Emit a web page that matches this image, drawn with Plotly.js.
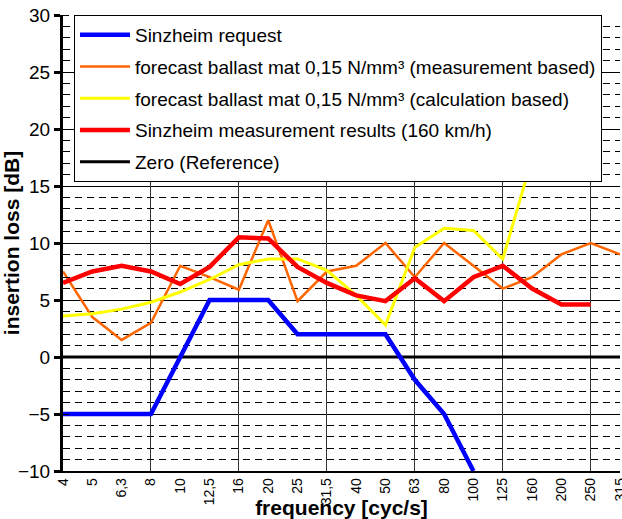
<!DOCTYPE html>
<html>
<head>
<meta charset="utf-8">
<script src="https://cdn.plot.ly/plotly-3.0.1.min.js"></script>
<style>html,body{margin:0;padding:0;background:#fff;}#chart{width:622px;height:519px;}</style>
</head>
<body>
<div id="chart"></div>
<script>
var categories = ["4","5","6,3","8","10","12,5","16","20","25","31,5","40","50","63","80","100","125","160","200","250","315"];
var request = [-5,-5,-5,-5,0,5,5,5,2,2,2,2,-2,-5,-10];
var forecastMeas = [7.5,3.5,1.5,3.0,8.0,7.0,5.9,12.0,4.9,7.5,8.0,10.0,7.0,10.0,8.0,6.0,7.0,9.0,10.0,9.0];
var forecastCalc = [3.6,3.8,4.2,4.8,5.7,6.8,8.1,8.6,8.6,7.6,5.4,2.8,9.6,11.3,11.1,8.6,17.4];
var measured = [6.5,7.5,8.0,7.5,6.4,7.9,10.5,10.4,7.9,6.5,5.4,4.9,6.9,4.9,7.0,8.0,6.0,4.6,4.6];
var zero = categories.map(function(){return 0;});
var names = ["Sinzheim request","forecast ballast mat 0,15 N/mm³ (measurement based)","forecast ballast mat 0,15 N/mm³ (calculation based)","Sinzheim measurement results (160 km/h)","Zero (Reference)"];

function cats(arr){ return categories.slice(0, arr.length); }

var traces = [
  {x: [], y: [], xaxis:'x2', yaxis:'y', mode:'lines', showlegend:false, hoverinfo:'skip'},
  {x: cats(zero), y: zero, name: names[4], mode:'lines', line:{color:'#000000', width:3}, legendrank:5, legendgroup:'e'},
  {x: cats(forecastMeas), y: forecastMeas, name: names[1], mode:'lines', line:{color:'#FF6600', width:2.5}, legendrank:2, legendgroup:'b'},
  {x: cats(forecastCalc), y: forecastCalc, name: names[2], mode:'lines', line:{color:'#FFFF00', width:3}, legendrank:3, legendgroup:'c'},
  {x: cats(request), y: request, name: names[0], mode:'lines', line:{color:'#0000FF', width:4.5}, legendrank:1, legendgroup:'a'},
  {x: cats(measured), y: measured, name: names[3], mode:'lines', line:{color:'#FF0000', width:4.5}, legendrank:4, legendgroup:'d'}
];

var layout = {
  width: 622, height: 519,
  margin: {l:63, r:2, t:15, b:48},
  paper_bgcolor:'#ffffff', plot_bgcolor:'#ffffff',
  font: {family:'Liberation Sans, Arial, sans-serif', color:'#000000', size:19},
  showlegend: true,
  legend: {x:0.0197, y:1.0, xanchor:'left', yanchor:'top', bgcolor:'#ffffff', bordercolor:'#000000', borderwidth:1,
           font:{size:19, family:'Liberation Sans, Arial, sans-serif'}, traceorder:'grouped', tracegroupgap:4, itemwidth:50},
  xaxis: {type:'category', categoryarray: categories, categoryorder:'array', range:[0, categories.length-1],
          showgrid:false, zeroline:false, showline:true, linecolor:'#000000', linewidth:1.5,
          ticks:'', tickangle:-90, tickfont:{family:'Liberation Sans Narrow, Arial Narrow, Liberation Sans, sans-serif', size:14},
          title:{text:'<b>frequency [cyc/s]</b>', font:{size:21}, standoff:1}, automargin:false},
  xaxis2: {overlaying:'x', anchor:'y', side:'bottom', type:'linear', range:[0, categories.length-1],
           tickmode:'linear', tick0:0, dtick:3, showgrid:true, gridcolor:'#333333', gridwidth:1,
           showticklabels:false, ticks:'', zeroline:false, showline:false},
  yaxis: {range:[-10,30], tickmode:'linear', tick0:-10, dtick:5, showgrid:true, gridcolor:'#000000', gridwidth:1,
          zeroline:false, showline:true, linecolor:'#000000', linewidth:3,
          ticks:'outside', ticklen:6, tickwidth:3, tickcolor:'#000000', tickfont:{size:19},
          minor:{dtick:1, tick0:0, showgrid:true, gridcolor:'#000000', gridwidth:1, griddash:'7px,5px', ticks:'inside', ticklen:6, tickwidth:1, tickcolor:'#000000'},
          title:{text:'<b>insertion loss [dB]</b>', font:{size:21}, standoff:0}, automargin:false}
};

Plotly.newPlot('chart', traces, layout, {displayModeBar:false, staticPlot:true});
</script>
</body>
</html>
